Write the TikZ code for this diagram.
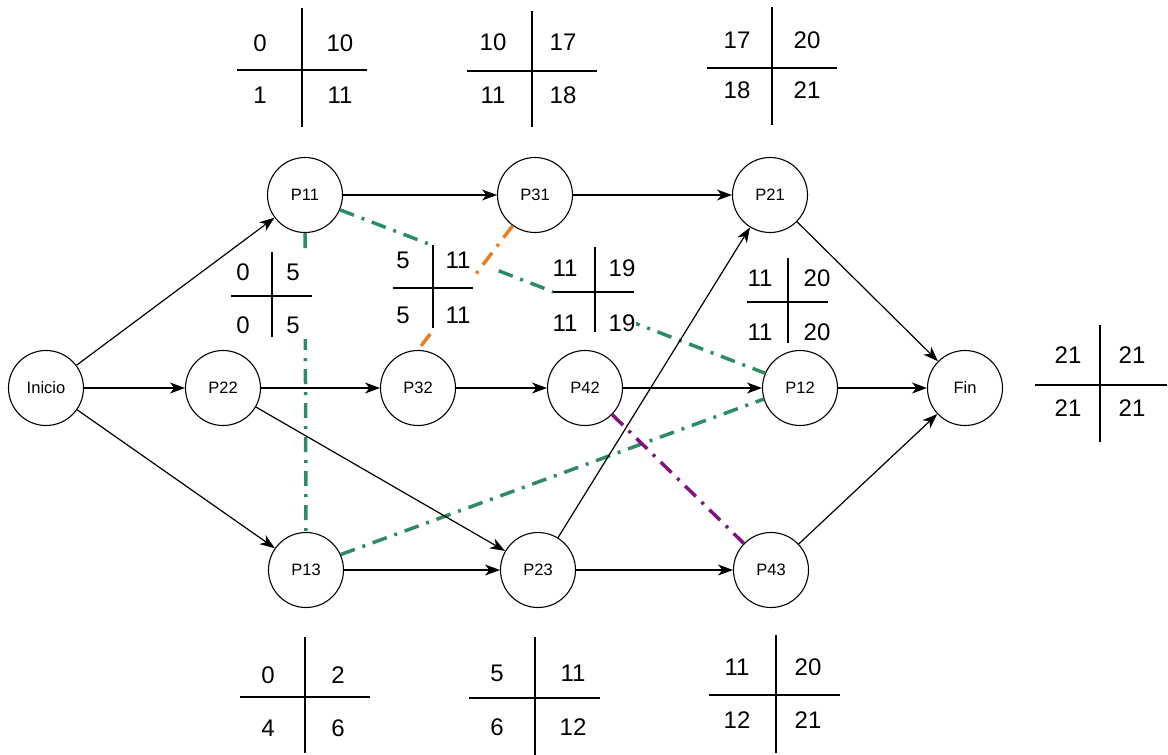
\documentclass[tikz,border=0pt]{standalone}
\usepackage{fontspec}
\setmainfont{Liberation Sans}
\usetikzlibrary{arrows.meta}
\definecolor{cpgreen}{RGB}{45,140,100}
\definecolor{cporange}{RGB}{235,125,35}
\definecolor{cppurple}{RGB}{125,20,125}
\newcommand{\tcross}[6]{\draw[tline] (#1,#2) -- (#1,#3); \draw[tline] (#5,#4) -- (#6,#4);}
\newcommand{\tnums}[9]{%
  \node[num] (#1a) at (#2,#4) {#6};
  \node[num] (#1b) at (#3,#4) {#7};
  \node[num] (#1c) at (#2,#5) {#8};
  \node[num] (#1d) at (#3,#5) {#9};}
\begin{document}
\begin{tikzpicture}[x=1pt,y=-1pt,
  state/.style={circle,draw,line width=1.1pt,minimum size=75pt,inner sep=0pt,font=\fontsize{16.5}{16.5}\selectfont},
  edge/.style={line width=1.2pt,-{Stealth[length=15pt,width=11pt,inset=4.5pt]}},
  crit/.style={line width=3.5pt,dash pattern=on 15pt off 8pt on 3pt off 8pt},
  num/.style={font=\fontsize{24}{24}\selectfont,inner sep=0pt},
  tline/.style={line width=1.2pt},
  cover/.style={fill=white,draw=none}]
\useasboundingbox (0,0) rectangle (1168,755);
% nodes
\node[state] (Inicio) at (46,388) {Inicio};
\node[state] (P22) at (223,388) {P22};
\node[state] (P32) at (418,388) {P32};
\node[state] (P42) at (585,388) {P42};
\node[state] (P12) at (800,388) {P12};
\node[state] (Fin) at (965,388) {Fin};
\node[state] (P11) at (305,195) {P11};
\node[state] (P31) at (535,195) {P31};
\node[state] (P21) at (770,195) {P21};
\node[state] (P13) at (306,570) {P13};
\node[state] (P23) at (538,570) {P23};
\node[state] (P43) at (771,570) {P43};
% critical-path style dash-dot links
\draw[crit,cpgreen] (P11.south) -- (P13.north);
\draw[crit,cpgreen] (P11.337) -- (P12.157);
\draw[crit,cpgreen] (P13.24) -- (P12.197);
\draw[crit,cppurple] (P42) -- (P43);
% white cells hiding parts of the links
\fill[cover] (274,250) rectangle (314,339);
\fill[cover] (430,240) rectangle (495,272);
\fill[cover] (553,290) rectangle (636,340);
\draw[crit,cporange] (P31.234) -- (P32.north);
\fill[cover] (433,276) rectangle (495,331);
% black edges
\draw[edge] (Inicio) -- (P11);
\draw[edge] (Inicio) -- (P22);
\draw[edge] (Inicio) -- (P13);
\draw[edge] (P11) -- (P31);
\draw[edge] (P31) -- (P21);
\draw[edge] (P22) -- (P32);
\draw[edge] (P22) -- (P23);
\draw[edge] (P32) -- (P42);
\draw[edge] (P42) -- (P12);
\draw[edge] (P12) -- (Fin);
\draw[edge] (P13) -- (P23);
\draw[edge] (P23) -- (P43);
\draw[edge] (P23) -- (P21);
\draw[edge] (P21) -- (Fin);
\draw[edge] (P43) -- (Fin);
% tables
\tcross{302}{8}{127}{70}{237}{367}
\tnums{ta}{260}{340}{43}{95}{0}{10}{1}{11}
\tcross{532}{11}{127}{71}{467}{597}
\tnums{tb}{493}{563}{42}{95}{10}{17}{11}{18}
\tcross{772}{7}{125}{68}{707}{837}
\tnums{tc}{737}{807}{40}{90}{17}{20}{18}{21}
\tcross{272}{252}{337}{296}{231}{312}
\tnums{td}{243}{293}{272}{325}{0}{5}{0}{5}
\tcross{433}{245}{328}{288}{393}{473}
\tnums{te}{403}{458}{260}{315}{5}{11}{5}{11}
\tcross{595}{247}{332}{292}{553}{634}
\tnums{tf}{565}{622}{268}{323}{11}{19}{11}{19}
\tcross{788}{258}{343}{302}{747}{828}
\tnums{tg}{760}{817}{278}{332}{11}{20}{11}{20}
\tcross{1100}{325}{442}{385}{1035}{1167}
\tnums{th}{1068}{1132}{355}{408}{21}{21}{21}{21}
\tcross{305}{637}{753}{697}{240}{370}
\tnums{ti}{268}{338}{675}{728}{0}{2}{4}{6}
\tcross{535}{637}{755}{698}{469}{600}
\tnums{tj}{497}{573}{673}{727}{5}{11}{6}{12}
\tcross{776}{635}{753}{695}{709}{840}
\tnums{tk}{737}{808}{667}{720}{11}{20}{12}{21}
\end{tikzpicture}
\end{document}
